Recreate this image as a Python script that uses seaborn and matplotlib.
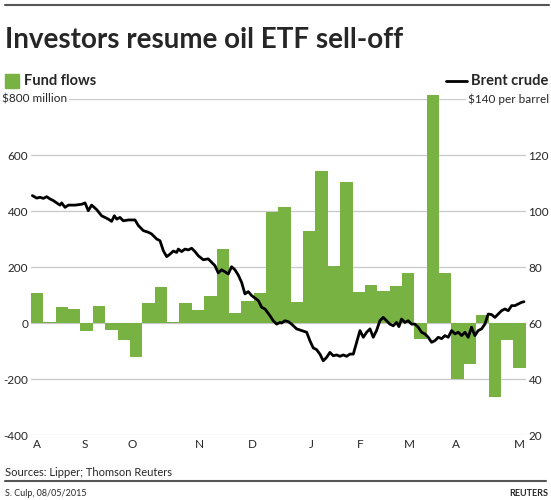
"""Reuters-style chart: oil ETF fund flows (bars) against Brent crude (line)."""
import numpy as np
import pandas as pd
import matplotlib
matplotlib.use('Agg')
import matplotlib.pyplot as plt
import seaborn as sns

# weekly fund flows, $ million (Aug 2014 - May 2015)
weeks = list(range(40))
flows = [108, 3, 56, 50, -29, 61, -24, -60, -120, 72,
         130, 3, 72, 45, 97, 264, 35, 77, 108, 397,
         416, 76, 330, 544, 204, 505, 111, 137, 113, 131,
         180, -57, 815, 177, -201, -145, 28, -264, -60, -162]

# Brent crude, $ per barrel, position measured in weeks from the start
brent_week = [0.11, 0.46, 0.73, 1.00, 1.27, 1.54, 1.81, 2.08, 2.34, 2.48,
              2.75, 3.02, 3.56, 4.10, 4.37, 4.63, 4.90, 5.31, 5.71, 6.25,
              6.52, 6.74, 6.93, 7.19, 7.46, 7.87, 8.41, 8.68, 9.08, 9.49,
              9.75, 10.16, 10.43, 10.70, 10.97, 11.24, 11.51, 11.78, 11.91, 12.18,
              12.45, 12.72, 12.99, 13.26, 13.53, 13.93, 14.33, 14.60, 14.87, 15.14,
              15.41, 15.68, 15.95, 16.22, 16.49, 16.76, 17.03, 17.30, 17.57, 17.84,
              18.11, 18.38, 18.65, 18.92, 19.32, 19.59, 19.86, 20.13, 20.26, 20.53,
              20.80, 21.07, 21.48, 21.88, 22.29, 22.55, 22.82, 23.09, 23.36, 23.63,
              23.90, 24.17, 24.44, 24.71, 24.98, 25.25, 25.52, 25.79, 26.06, 26.33,
              26.60, 26.87, 27.14, 27.41, 27.67, 27.94, 28.21, 28.48, 28.75, 29.02,
              29.29, 29.56, 29.75, 29.96, 30.23, 30.50, 30.77, 31.04, 31.31, 31.58,
              31.85, 32.12, 32.39, 32.66, 32.93, 33.20, 33.47, 33.74, 34.01, 34.28,
              34.55, 34.82, 35.09, 35.35, 35.62, 35.89, 36.16, 36.43, 36.70, 36.97,
              37.24, 37.51, 37.78, 38.05, 38.32, 38.59, 38.86, 39.13, 39.40, 39.67,
              39.86]
brent_price = [105.5, 104.6, 104.9, 104.5, 105.1, 104.3, 103.7, 102.9, 102.1, 102.9,
               101.3, 102.1, 102.1, 102.4, 102.9, 100.1, 102.1, 100.5, 98.3, 97.1,
               96.3, 98.3, 97.1, 97.7, 96.5, 96.8, 96.8, 94.8, 93.0, 92.4,
               91.8, 90.0, 89.4, 85.8, 83.7, 84.6, 85.7, 85.2, 86.4, 85.5,
               86.4, 86.1, 86.7, 85.5, 84.0, 82.6, 82.9, 81.7, 80.5, 77.9,
               79.0, 78.3, 77.5, 80.1, 79.0, 77.1, 74.5, 70.4, 71.2, 69.8,
               68.9, 68.0, 65.6, 65.0, 62.6, 60.8, 59.6, 60.2, 60.0, 60.8,
               60.5, 59.6, 57.9, 57.3, 56.7, 53.7, 51.1, 50.5, 48.9, 46.5,
               47.7, 49.5, 48.3, 48.6, 48.1, 48.6, 48.1, 48.9, 48.9, 53.1,
               57.3, 54.9, 56.7, 57.9, 54.9, 57.3, 60.8, 62.0, 60.8, 59.6,
               59.0, 60.2, 58.7, 61.4, 60.2, 60.8, 59.6, 59.6, 58.5, 56.7,
               56.1, 54.9, 53.1, 53.7, 54.9, 54.4, 55.5, 54.9, 57.3, 56.1,
               56.7, 55.5, 56.7, 54.9, 58.5, 55.5, 57.3, 57.9, 59.6, 63.2,
               63.0, 62.0, 63.2, 64.4, 65.0, 64.4, 66.2, 66.2, 66.8, 67.4,
               67.6]

month_labels = ['A', 'S', 'O', 'N', 'D', 'J', 'F', 'M', 'A', 'M']
month_pos = [0.49, 4.37, 8.17, 13.58, 17.87, 22.64, 26.6, 30.6, 34.4, 39.5]

left_ticks = [-400, -200, 0, 200, 400, 600]
right_ticks = [20, 40, 60, 80, 100, 120]

GREEN = '#78b243'
GRID = '#c8c8c8'

sns.set_theme(style='white')
plt.rcParams['font.family'] = ['Lato', 'DejaVu Sans']

fig = plt.figure(figsize=(5.51, 5.0), dpi=100)
ax = fig.add_axes([31 / 551, 1 - 435 / 500, 494.7 / 551, 336 / 500])

flows_df = pd.DataFrame({'week': weeks, 'flow': flows})
sns.barplot(data=flows_df, x='week', y='flow', width=1, color=GREEN,
            saturation=1, linewidth=0, ax=ax, zorder=2)
for p in ax.patches:
    p.set_clip_on(False)

ax.set_ylim(-400, 800)
ax.set_xlim(-0.5, len(weeks) - 0.5)
for v in left_ticks + [800]:
    ax.axhline(v, color=GRID, lw=0.9, zorder=0)
ax.set_yticks(left_ticks)
ax.set_yticklabels([str(t) for t in left_ticks], fontsize=8.5)
ax.set_xticks([m - 0.5 for m in month_pos])
ax.set_xticklabels(month_labels, fontsize=8.5)
ax.tick_params(axis='both', length=0, pad=2)
ax.tick_params(axis='x', pad=3)
ax.set_xlabel('')
ax.set_ylabel('')
sns.despine(ax=ax, left=True, bottom=True)

ax2 = ax.twinx()
sns.lineplot(x=np.array(brent_week) - 0.5, y=brent_price, color='black',
             lw=2.0, estimator=None, ax=ax2)
ax2.set_ylim(20, 140)
ax2.set_yticks(right_ticks)
ax2.set_yticklabels([str(t) for t in right_ticks], fontsize=8.5)
ax2.tick_params(axis='y', length=0, pad=2)
ax2.grid(False)
sns.despine(ax=ax2, left=True, bottom=True, right=True)

# top axis labels with white boxes over the 800 gridline
fig.text(2 / 551, 1 - 99 / 500, '$800 million', fontsize=8.5, va='center', ha='left',
         bbox=dict(facecolor='white', edgecolor='none', pad=1.5))
fig.text(549 / 551, 1 - 99 / 500, '$140 per barrel', fontsize=8.5, va='center', ha='right',
         bbox=dict(facecolor='white', edgecolor='none', pad=1.5))

# legend
fig.patches.append(plt.Rectangle((5 / 551, 1 - 88 / 500), 14 / 551, 14 / 500,
                                 transform=fig.transFigure, color=GREEN))
fig.text(24 / 551, 1 - 81 / 500, 'Fund flows', fontsize=10.5, fontweight='bold',
         va='center', ha='left')
fig.lines.append(plt.Line2D([446 / 551, 467 / 551], [1 - 81 / 500, 1 - 81 / 500],
                            transform=fig.transFigure, color='black', lw=2))
fig.text(471 / 551, 1 - 81 / 500, 'Brent crude', fontsize=10.5, fontweight='bold',
         va='center', ha='left')

# title and rules
fig.lines.append(plt.Line2D([5 / 551, 549 / 551], [1 - 5 / 500, 1 - 5 / 500],
                            transform=fig.transFigure, color='#555555', lw=1.5))
fig.text(5 / 551, 1 - 48 / 500, 'Investors resume oil ETF sell-off', fontsize=20,
         fontweight='bold', va='baseline', ha='left')

fig.text(5 / 551, 1 - 472 / 500, 'Sources: Lipper; Thomson Reuters', fontsize=8,
         va='center', ha='left')
fig.lines.append(plt.Line2D([5 / 551, 546 / 551], [1 - 481 / 500, 1 - 481 / 500],
                            transform=fig.transFigure, color='#555555', lw=1.5))
fig.text(5 / 551, 1 - 493 / 500, 'S. Culp, 08/05/2015', fontsize=6.5,
         va='center', ha='left')
fig.text(548 / 551, 1 - 493 / 500, 'REUTERS', fontsize=6.5, fontweight='bold',
         va='center', ha='right')

fig.savefig('out.png', dpi=100)
